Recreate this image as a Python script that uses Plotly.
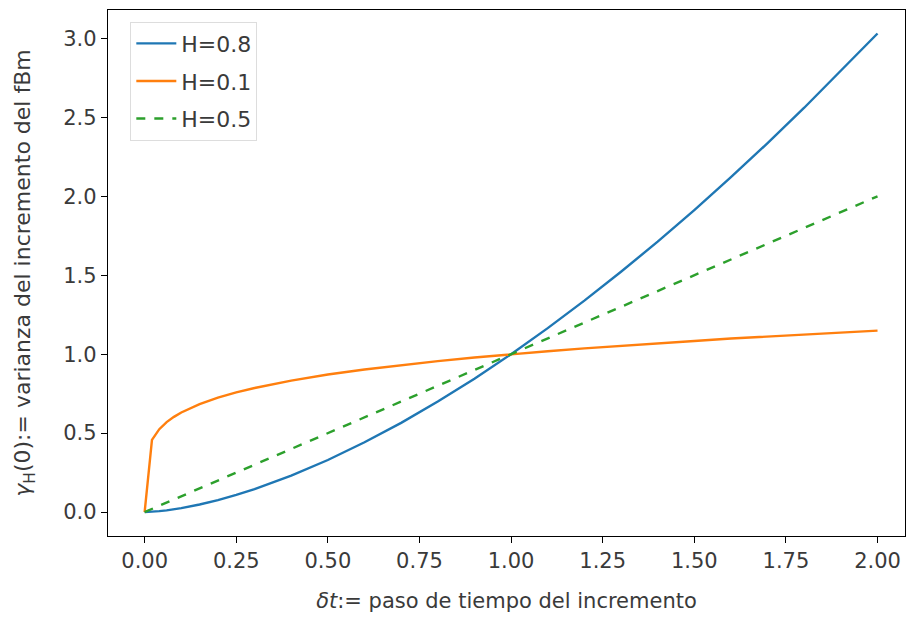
import plotly.graph_objects as go

dt = [0, 0.02, 0.04, 0.06, 0.08, 0.1, 0.15, 0.2, 0.25, 0.3, 0.4, 0.5, 0.6, 0.7,
      0.8, 0.9, 1.0, 1.1, 1.2, 1.3, 1.4, 1.5, 1.6, 1.7, 1.8, 1.9, 2.0]
var_h08 = [0, 0.002, 0.006, 0.011, 0.018, 0.025, 0.048, 0.076, 0.109, 0.146, 0.231,
           0.330, 0.442, 0.565, 0.700, 0.845, 1.0, 1.165, 1.339, 1.522, 1.713,
           1.913, 2.121, 2.337, 2.561, 2.793, 3.031]
var_h01 = [0, 0.457, 0.525, 0.570, 0.603, 0.631, 0.684, 0.725, 0.758, 0.786, 0.833,
           0.871, 0.903, 0.931, 0.956, 0.979, 1.0, 1.019, 1.037, 1.054, 1.070,
           1.084, 1.099, 1.112, 1.125, 1.137, 1.149]
var_h05 = [0, 0.02, 0.04, 0.06, 0.08, 0.1, 0.15, 0.2, 0.25, 0.3, 0.4, 0.5, 0.6, 0.7,
           0.8, 0.9, 1.0, 1.1, 1.2, 1.3, 1.4, 1.5, 1.6, 1.7, 1.8, 1.9, 2.0]

x_ticks = [0, 0.25, 0.5, 0.75, 1.0, 1.25, 1.5, 1.75, 2.0]
x_tick_labels = ["0.00", "0.25", "0.50", "0.75", "1.00", "1.25", "1.50", "1.75", "2.00"]
y_ticks = [0, 0.5, 1.0, 1.5, 2.0, 2.5, 3.0]
y_tick_labels = ["0.0", "0.5", "1.0", "1.5", "2.0", "2.5", "3.0"]

font = "DejaVu Sans"
txt = "#3a3a3a"

fig = go.Figure()
fig.add_trace(go.Scatter(x=dt, y=var_h08, mode="lines", name="H=0.8", legendgroup="a",
                         line=dict(color="#1f77b4", width=2.4)))
fig.add_trace(go.Scatter(x=dt, y=var_h01, mode="lines", name="H=0.1", legendgroup="b",
                         line=dict(color="#ff7f0e", width=2.4)))
fig.add_trace(go.Scatter(x=dt, y=var_h05, mode="lines", name="H=0.5", legendgroup="c",
                         line=dict(color="#2ca02c", width=2.4, dash="dash")))

axis_common = dict(showline=True, linecolor="black", linewidth=1.3, mirror=True,
                   ticks="outside", ticklen=6, tickwidth=1.2, tickcolor="black",
                   showgrid=False, zeroline=False,
                   tickfont=dict(family=font, size=21, color=txt))

fig.update_layout(
    width=907, height=621,
    margin=dict(l=108, r=2, t=10, b=85),
    paper_bgcolor="white", plot_bgcolor="white",
    font=dict(family=font, color=txt),
    xaxis=dict(range=[-0.1, 2.075], tickvals=x_ticks, ticktext=x_tick_labels,
               title=dict(text="<i>δt</i>:= paso de tiempo del incremento",
                          font=dict(family=font, size=21, color=txt), standoff=20),
               **axis_common),
    yaxis=dict(range=[-0.1515, 3.18], tickvals=y_ticks, ticktext=y_tick_labels,
               title=dict(text="<i>γ</i><sub>H</sub>(0):= varianza del incremento del fBm",
                          font=dict(family=font, size=22, color=txt), standoff=26),
               **axis_common),
    legend=dict(x=0.028, y=0.978, xanchor="left", yanchor="top",
                bgcolor="rgba(255,255,255,0.8)", bordercolor="#dddddd", borderwidth=1,
                font=dict(family=font, size=22, color=txt), itemwidth=40,
                tracegroupgap=6),
    showlegend=True,
)

fig.write_html("out.html")
